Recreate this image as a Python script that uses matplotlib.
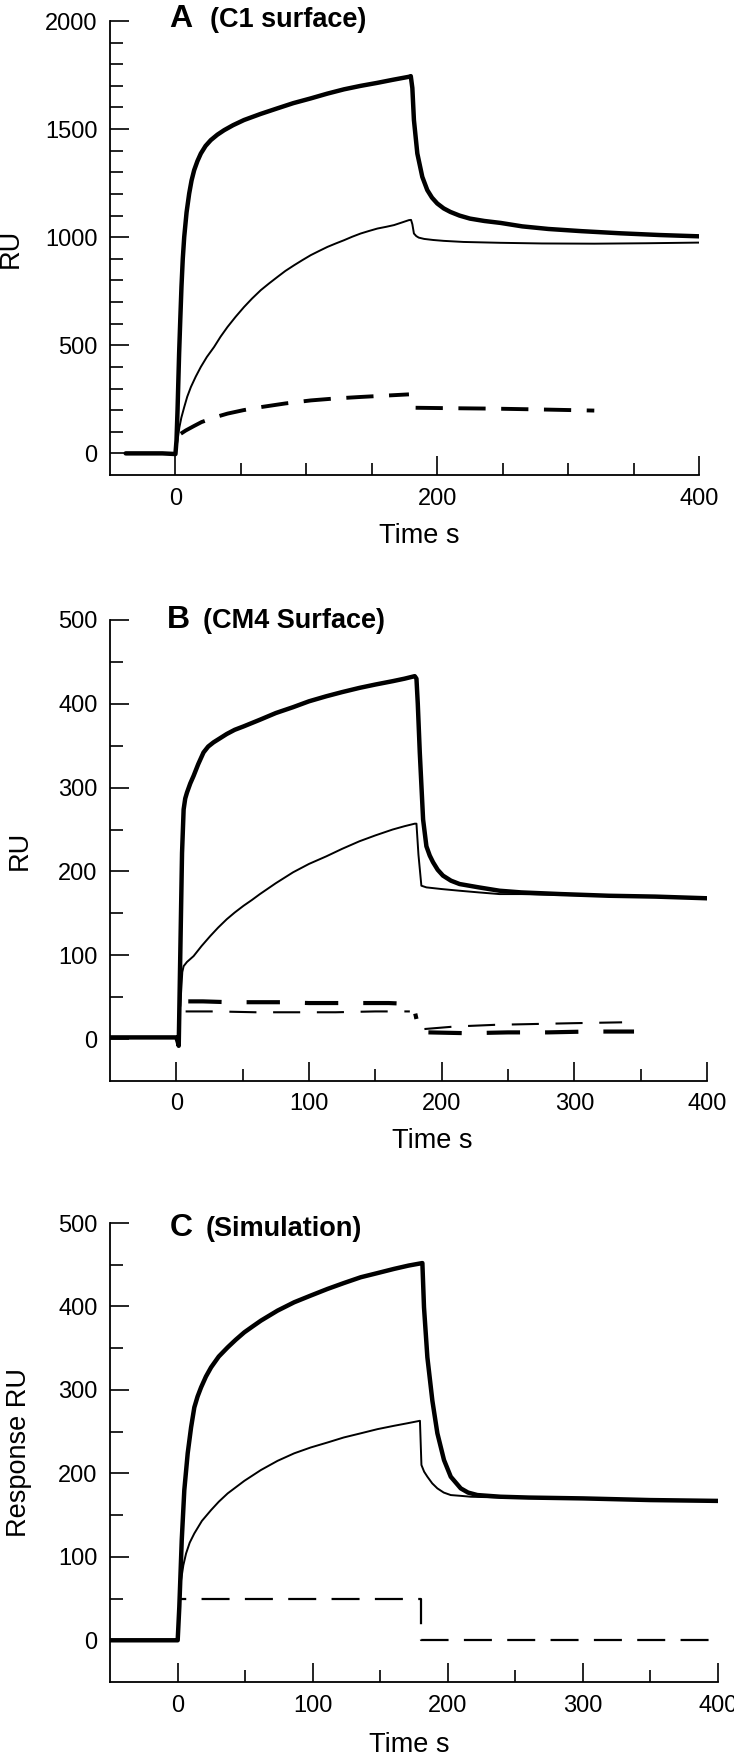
import numpy as np
import matplotlib
matplotlib.use("Agg")
import matplotlib.pyplot as plt

plt.rcParams['font.family'] = ['Liberation Sans', 'DejaVu Sans']

nan = np.nan

# ---- panel A (C1 surface) ----
a_thick_t = [-38, -10, 0, 0.8, 1.6, 2.8, 3.7, 4.6, 5.6, 6.7, 8.5, 10.5, 12.3, 14.3, 16.8, 19.4,
             23, 27, 32, 37.2, 44, 52.4, 65, 77.9, 90, 103.4, 116, 128.8, 141.5, 154.3, 166,
             178.4, 179.8, 181, 182.2, 184.8, 188.6, 192.4, 196, 200, 205, 210, 217, 225, 236,
             248.4, 265, 285, 310, 340, 370, 400]
a_thick_y = [0, 0, -3, 60, 200, 461, 620, 770, 900, 1001, 1115, 1202, 1262, 1310, 1352, 1387,
             1422, 1449, 1474, 1495, 1518, 1542, 1570, 1596, 1620, 1642, 1664, 1684, 1700, 1714,
             1728, 1742, 1745, 1690, 1542, 1387, 1279, 1218, 1183, 1156, 1133, 1117, 1100, 1086,
             1075, 1066, 1050, 1038, 1028, 1018, 1010, 1004]
a_thin_t = [0, 0.8, 1.6, 3, 4.5, 6.7, 9, 11.8, 15.5, 19.4, 24, 29.5, 34.5, 39.8, 46, 52.4, 58.5,
            65.2, 71.5, 77.9, 84, 90.6, 97, 103.4, 110, 116.1, 122.5, 128.8, 135, 141.5, 148,
            154.3, 161, 167, 173, 178.4, 180, 181, 182.2, 184, 185.9, 190, 197, 205, 220, 248.4,
            280, 320, 360, 400]
a_thin_y = [0, 30, 60, 120, 165, 214, 262, 307, 355, 400, 446, 492, 540, 585, 632, 677, 716,
            755, 786, 816, 844, 870, 894, 917, 937, 955, 971, 986, 1002, 1017, 1029, 1040, 1048,
            1056, 1068, 1079, 1080, 1060, 1017, 1005, 998, 992, 987, 983, 978, 974, 971, 970,
            972, 975]
a_dash_t = [4.1, 7.9, 14.3, 20, 27, 33, 39.8, 52, 65.2, 84, 103.4, 122, 141.5, 160, 178.4, nan,
            183.5, 210, 243, 280, 320]
a_dash_y = [91, 106, 127, 145, 160, 172, 184, 200, 214, 231, 245, 254, 261, 267, 273, nan,
            211, 209, 207, 203, 198]

# ---- panel B (CM4 surface) ----
b_thick_t = [-50, -20, 0, 1, 1.8, 3, 4.3, 5.5, 6.7, 8, 10.5, 13, 16.5, 20.5, 24, 28, 33, 38, 44,
             50.6, 63, 75, 88, 100, 113, 125, 138, 150, 163, 172, 179.7, 181, 182, 183.5, 186,
             188.5, 191, 193.5, 197, 201, 207, 213.5, 228, 243.6, 260, 290, 326, 361, 400]
b_thick_y = [2, 2, 2, -3, -8, 103, 222, 274, 287, 294, 305, 314, 328, 342, 349, 354, 359, 364,
             369, 373, 381, 389, 396, 403, 409, 414, 419, 423, 427, 430, 433, 430, 400, 342, 262,
             230, 219, 211, 202, 195, 189, 185, 181, 177, 175, 173, 171, 170, 168]
b_thin_t = [3, 4.5, 5.5, 8, 13, 19, 25.6, 31.5, 38, 44, 50.6, 57, 63, 75, 88, 100, 113, 125, 138,
            150, 163, 172, 179.7, 181, 182.5, 184.7, 188.5, 200, 213.5, 228, 243.6, 260, 290,
            326, 361, 400]
b_thin_y = [40, 80, 87, 92, 99, 111, 123, 133, 143, 151, 159, 166, 173, 186, 199, 209, 218, 227,
            236, 243, 250, 254, 257, 257, 220, 183, 181, 179, 177, 175, 173, 173, 172, 171, 170,
            168]
b_dash1_t = [9, 20, 40, 60, 80, 100, 120, 140, 160, 176, 179, 181, nan,
             190, 220, 250, 280, 310, 345]
b_dash1_y = [45, 45, 44, 44, 44, 43, 43, 43, 43, 42, 38, 24, nan,
             8, 7, 8, 8, 9, 9]
b_dash2_t = [7, 30, 60, 90, 120, 150, 176, nan, 187, 210, 240, 270, 300, 336]
b_dash2_y = [33, 33, 32, 32, 32, 33, 33, nan, 12, 15, 17, 18, 19, 20]

# ---- panel C (simulation) ----
c_thick_t = [-50, -1, 0.1, 1.3, 3.1, 5, 7.5, 10, 12.4, 14.8, 17.4, 21, 24.8, 30.5, 37.1, 43,
             49.4, 55.5, 61.7, 74, 86.3, 98.5, 111, 123, 135.6, 148, 160.2, 171, 181.2, 182.4,
             184.9, 188.6, 192.3, 197.2, 202.2, 209.6, 215, 221.9, 239, 260, 300, 350, 400]
c_thick_y = [0, 0, 0, 40, 120, 180, 224, 255, 279, 292, 303, 316, 327, 340, 351, 360, 369, 376,
             383, 395, 405, 413, 421, 428, 435, 440, 445, 449, 452, 399, 339, 287, 248, 216, 196,
             182, 177, 174, 172, 171, 170, 168, 167]
c_thin_t = [0, 1.3, 2.6, 4.3, 6.3, 9, 12.4, 18, 24.8, 30.5, 37.1, 49.4, 61.7, 74, 86.3, 98.5,
            111, 123, 135.6, 148, 160.2, 170, 179.4, 180.5, 182.5, 184.9, 188.5, 192.3, 197,
            202.2, 210, 217, 240, 260]
c_thin_y = [0, 40, 72, 90, 104, 117, 128, 143, 156, 166, 176, 191, 204, 215, 224, 231, 237, 243,
            248, 253, 257, 260, 263, 210, 202, 196, 188, 182, 177, 174, 173, 172, 171, 171]
c_dash_t = [0, 180, 180, 400]
c_dash_y = [50, 50, 0, 0]

W, H = 734, 1755
fig = plt.figure(figsize=(W / 100, H / 100), dpi=100)
fig.set_facecolor('w')


def make_axes(left, right, top, bottom):
    return fig.add_axes([left / W, 1 - bottom / H, (right - left) / W, (bottom - top) / H])


def style(ax, ylim, ymaj, ymin, xmaj, xmin):
    ax.set_xlim(-50, 400)
    ax.set_ylim(*ylim)
    ax.spines['top'].set_visible(False)
    ax.spines['right'].set_visible(False)
    for s in ('left', 'bottom'):
        ax.spines[s].set_linewidth(1.3)
    ax.set_yticks(ymaj)
    ax.set_yticks(ymin, minor=True)
    ax.set_xticks(xmaj)
    ax.set_xticks(xmin, minor=True)
    ax.tick_params(which='both', direction='in', width=1.2, labelsize=17, pad=9)
    ax.tick_params(which='major', length=14)
    ax.tick_params(which='minor', length=9)
    ax.set_xlabel('Time s', fontsize=19.5)


def title(ax, letter, text, x1, x2, y):
    ax.text(x1, y, letter, transform=ax.transAxes, fontsize=23, fontweight='bold', va='baseline')
    ax.text(x2, y, text, transform=ax.transAxes, fontsize=19.5, fontweight='bold', va='baseline')


thick = dict(color='k', lw=3.2, solid_joinstyle='round', solid_capstyle='round')
thin = dict(color='k', lw=1.4)

# A
axA = make_axes(110, 699, 21, 475)
axA.plot(a_thick_t, a_thick_y, **thick)
axA.plot(a_thin_t, a_thin_y, **thin)
axA.plot(a_dash_t, a_dash_y, color='k', lw=2.8, linestyle=(0, (7, 4)))
style(axA, (-100, 2000), range(0, 2001, 500), [v for v in range(100, 2000, 100) if v % 500],
      [0, 200, 400], [50, 100, 150, 250, 300, 350])
axA.set_ylabel('RU', fontsize=19.5)
axA.yaxis.set_label_coords(-0.146, 0.5)
axA.xaxis.set_label_coords(0.525, -0.105)
title(axA, 'A', '(C1 surface)', 0.100, 0.170, 0.987)

# B
axB = make_axes(110, 707, 620, 1081)
axB.plot(b_thick_t, b_thick_y, **thick)
axB.plot(b_thin_t, b_thin_y, **thin)
axB.plot(b_dash1_t, b_dash1_y, color='k', lw=3.0, linestyle=(0, (8, 6)))
axB.plot(b_dash2_t, b_dash2_y, color='k', lw=1.5, linestyle=(0, (13, 8)))
style(axB, (-50, 500), range(0, 501, 100), [50, 150, 250, 350, 450],
      range(0, 401, 100), [50, 150, 250, 350])
axB.set_ylabel('RU', fontsize=19.5)
axB.yaxis.set_label_coords(-0.13, 0.5)
axB.xaxis.set_label_coords(0.539, -0.102)
title(axB, 'B', '(CM4 Surface)', 0.095, 0.156, 0.982)

# C
axC = make_axes(110, 718, 1223, 1682)
axC.plot(c_thick_t, c_thick_y, **thick)
axC.plot(c_thin_t, c_thin_y, **thin)
axC.plot(c_dash_t, c_dash_y, color='k', lw=1.6, linestyle=(8.9, (12.6, 6.9)))
style(axC, (-50, 500), range(0, 501, 100), [50, 150, 250, 350, 450],
      range(0, 401, 100), [50, 150, 250, 350])
axC.set_ylabel('Response RU', fontsize=19.5)
axC.yaxis.set_label_coords(-0.128, 0.5)
axC.xaxis.set_label_coords(0.493, -0.11)
title(axC, 'C', '(Simulation)', 0.098, 0.158, 0.972)

fig.savefig('out.png', dpi=100)
